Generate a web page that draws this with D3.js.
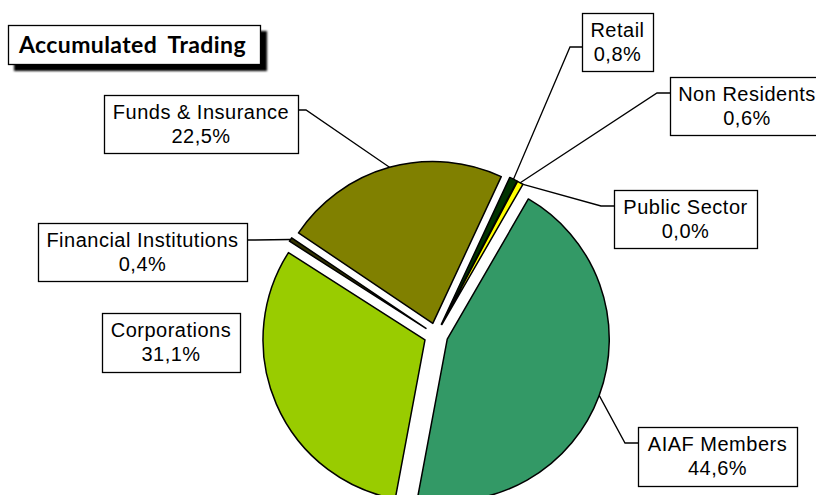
<!DOCTYPE html>
<html>
<head>
<meta charset="utf-8">
<script src="https://cdn.jsdelivr.net/npm/d3@7"></script>
<style>
  body { margin: 0; background: #fff; }
  svg { display: block; }
  .lbl text { font-family: "Liberation Sans", Arial, sans-serif; font-size: 20px; letter-spacing: 0.5px; fill: #000; }
  .title { font-family: Lato, "Open Sans", sans-serif; font-weight: bold; font-size: 23px; letter-spacing: 0.4px; }
</style>
</head>
<body>
<svg width="816" height="495"></svg>
<script>
// slices in clockwise order, starting at the top right
var categories = ["Retail", "Non Residents", "Public Sector", "AIAF Members", "Corporations", "Financial Institutions", "Funds & Insurance"];
var shares = [0.8, 0.6, 0.0, 44.6, 31.1, 0.4, 22.5];
var colors = ["#003300", "#ffff00", "#ff9900", "#339966", "#99cc00", "#333300", "#808000"];

var svg = d3.select("svg"),
    cx = 436,
    cy = 335,
    radius = 162,
    explode = 12,
    start = 25 * Math.PI / 180;

var fmt = d3.formatLocale({decimal: ",", thousands: ".", grouping: [3], currency: ["", ""]}).format(".1f");

// label box placement: x, y, w, h, side of leader, leader y offset, elbow length
var boxes = [
    [582, 13, 71, 58, "left", 34, 12],
    [670, 77, 154, 58, "left", 16, 13],
    [614, 190, 143, 58, "left", 16, 13],
    [638, 427, 159, 59, "left", 16, 13],
    [102, 313, 138, 59, null, 0, 0],
    [38, 223, 209, 58, "right", 17, 8],
    [104, 95, 194, 58, "right", 15, 8]
];

var data = categories.map((c, i) => ({name: c, value: shares[i], color: colors[i], box: boxes[i]}));

var pie = d3.pie()
    .sort(null)
    .value(d => d.value)
    .startAngle(start)
    .endAngle(start + 2 * Math.PI);

var arc = d3.arc().innerRadius(0).outerRadius(radius);

var arcs = pie(data);

function offset(d, r) {
    var a = (d.startAngle + d.endAngle) / 2;
    return [r * Math.sin(a), -r * Math.cos(a)];
}

var g = svg.append("g")
    .attr("transform", "translate(" + cx + "," + cy + ")");

g.selectAll(".slice")
    .data(arcs.filter(d => d.value > 0))
    .enter().append("path")
    .attr("class", "slice")
    .attr("transform", d => "translate(" + offset(d, explode) + ")")
    .attr("d", arc)
    .style("fill", d => d.data.color)
    .style("stroke", "#000")
    .style("stroke-width", 1.5)
    .style("stroke-linejoin", "round");

// leader lines
g.selectAll(".leader")
    .data(arcs.filter(d => d.data.box[4]))
    .enter().append("polyline")
    .attr("class", "leader")
    .attr("points", function (d) {
        var b = d.data.box,
            e = offset(d, explode),
            p = offset(d, radius),
            sx = (b[4] == "left" ? b[0] : b[0] + b[2]) - cx,
            sy = b[1] + b[5] - cy,
            ex = b[4] == "left" ? sx - b[6] : sx + b[6];
        return [[e[0] + p[0], e[1] + p[1]], [ex, sy], [sx, sy]].join(" ");
    })
    .style("fill", "none")
    .style("stroke", "#000")
    .style("stroke-width", 1.3);

// data labels
var lbl = svg.selectAll(".lbl")
    .data(data)
    .enter().append("g")
    .attr("class", "lbl")
    .attr("transform", d => "translate(" + d.box[0] + "," + d.box[1] + ")");

lbl.append("rect")
    .attr("x", 0.5)
    .attr("y", 0.5)
    .attr("width", d => d.box[2])
    .attr("height", d => d.box[3])
    .style("fill", "#fff")
    .style("stroke", "#000")
    .style("stroke-width", 1.3);

lbl.append("text")
    .attr("x", d => d.box[2] / 2)
    .attr("y", 24)
    .attr("text-anchor", "middle")
    .text(d => d.name);

lbl.append("text")
    .attr("x", d => d.box[2] / 2)
    .attr("y", 48)
    .attr("text-anchor", "middle")
    .text(d => fmt(d.value) + "%");

// title with drop shadow
var defs = svg.append("defs");
defs.append("filter")
    .attr("id", "blur")
    .append("feGaussianBlur")
    .attr("stdDeviation", 1);

svg.append("rect")
    .attr("x", 14)
    .attr("y", 31)
    .attr("width", 253)
    .attr("height", 40)
    .style("fill", "#000")
    .attr("filter", "url(#blur)");

svg.append("rect")
    .attr("x", 8.5)
    .attr("y", 25.5)
    .attr("width", 252)
    .attr("height", 39)
    .style("fill", "#fff")
    .style("stroke", "#000")
    .style("stroke-width", 1.3);

svg.append("text")
    .attr("class", "title")
    .attr("x", 19)
    .attr("y", 53)
    .style("word-spacing", "5px")
    .text("Accumulated Trading");
</script>
</body>
</html>
